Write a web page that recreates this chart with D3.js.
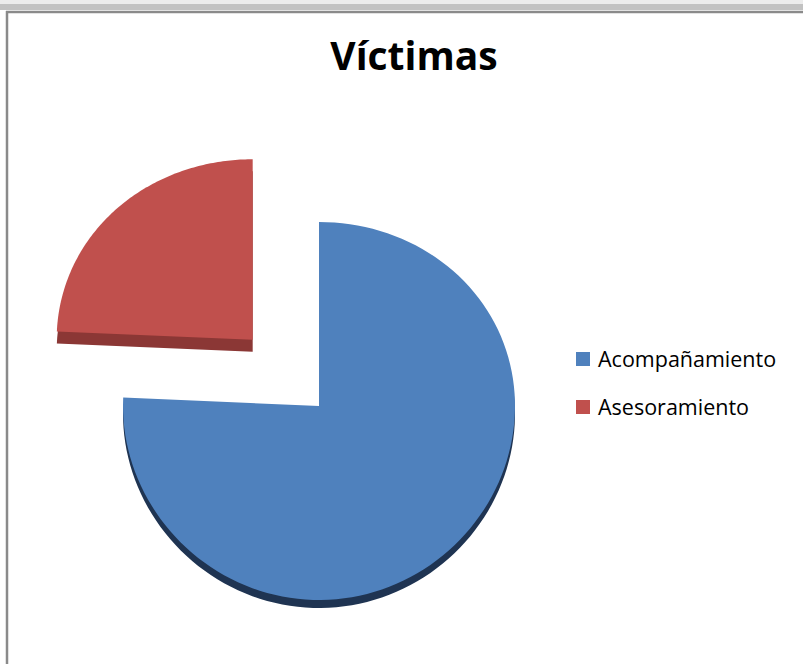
<!DOCTYPE html>
<html>
<head>
<meta charset="utf-8">
<script src="https://cdn.jsdelivr.net/npm/d3@7"></script>
<style>
  body { margin: 0; background: #fff; }
  svg { display: block; }
</style>
</head>
<body>
<svg id="chart" width="803" height="664"></svg>
<script>
// chart data
const title = "Víctimas";
const categories = ["Acompañamiento", "Asesoramiento"];
const values = [53, 17];
const topColors = ["#4f81bd", "#c0504d"];
const sideColors = ["#1f3452", "#8b3735"];

var svg = d3.select("#chart");

// window frame (spreadsheet-ish border)
svg.append("rect").attr("x", 0).attr("y", 0).attr("width", 803).attr("height", 4).attr("fill", "#ececec");
svg.append("rect").attr("x", 0).attr("y", 4).attr("width", 803).attr("height", 6).attr("fill", "#c2c2c2");
svg.append("line").attr("x1", 6).attr("x2", 803).attr("y1", 12).attr("y2", 12)
    .attr("stroke", "#8a8a8a").attr("stroke-width", 2.5);
svg.append("line").attr("x1", 7).attr("x2", 7).attr("y1", 11).attr("y2", 664)
    .attr("stroke", "#8a8a8a").attr("stroke-width", 2.5);

svg.append("text")
    .attr("x", 414).attr("y", 70)
    .attr("text-anchor", "middle")
    .style("font-family", "'Open Sans', sans-serif")
    .style("font-weight", "bold")
    .style("font-size", "39px")
    .text(title);

// pie geometry: flat pie seen slightly from above
var cx = 319, cy = 406, R = 196;
var explode = 96;          // distance the small slice is pulled out
var depth = [8, 12];       // visible thickness of each slice

function project(u, v) {   // plane coords -> screen
  var py = v * (189 / R) + 5 * (v / R) * (v / R);
  return [cx + u, cy + py];
}

var pie = d3.pie().sort(null).value(function(d) { return d; });
var arcs = pie(values);
var line = d3.line();

function slicePoints(a, i) {
  var off = [0, 0];
  if (i === 1) {
    var mid = (a.startAngle + a.endAngle) / 2;
    off = [explode * Math.sin(mid), -explode * Math.cos(mid)];
  }
  var pts = [project(off[0], off[1])];
  var n = 120;
  for (var k = 0; k <= n; k++) {
    var t = a.startAngle + (a.endAngle - a.startAngle) * k / n;
    pts.push(project(off[0] + R * Math.sin(t), off[1] - R * Math.cos(t)));
  }
  return pts;
}

var g = svg.append("g");

arcs.forEach(function(a, i) {
  var pts = slicePoints(a, i);
  var low = pts.map(function(p) { return [p[0], p[1] + depth[i]]; });
  g.append("path")
      .attr("d", line(low) + "Z")
      .attr("fill", sideColors[i]);
  g.append("path")
      .attr("d", line(pts) + "Z")
      .attr("fill", topColors[i]);
});

// legend
var legend = svg.append("g");
categories.forEach(function(c, i) {
  var y = 352 + i * 48;
  legend.append("rect")
      .attr("x", 576).attr("y", y)
      .attr("width", 14).attr("height", 14)
      .attr("fill", topColors[i]);
  legend.append("text")
      .attr("x", 598).attr("y", y + 15)
      .style("font-family", "'Open Sans', sans-serif")
      .style("font-size", "21.5px")
      .attr("fill", "#000")
      .text(c);
});
</script>
</body>
</html>
